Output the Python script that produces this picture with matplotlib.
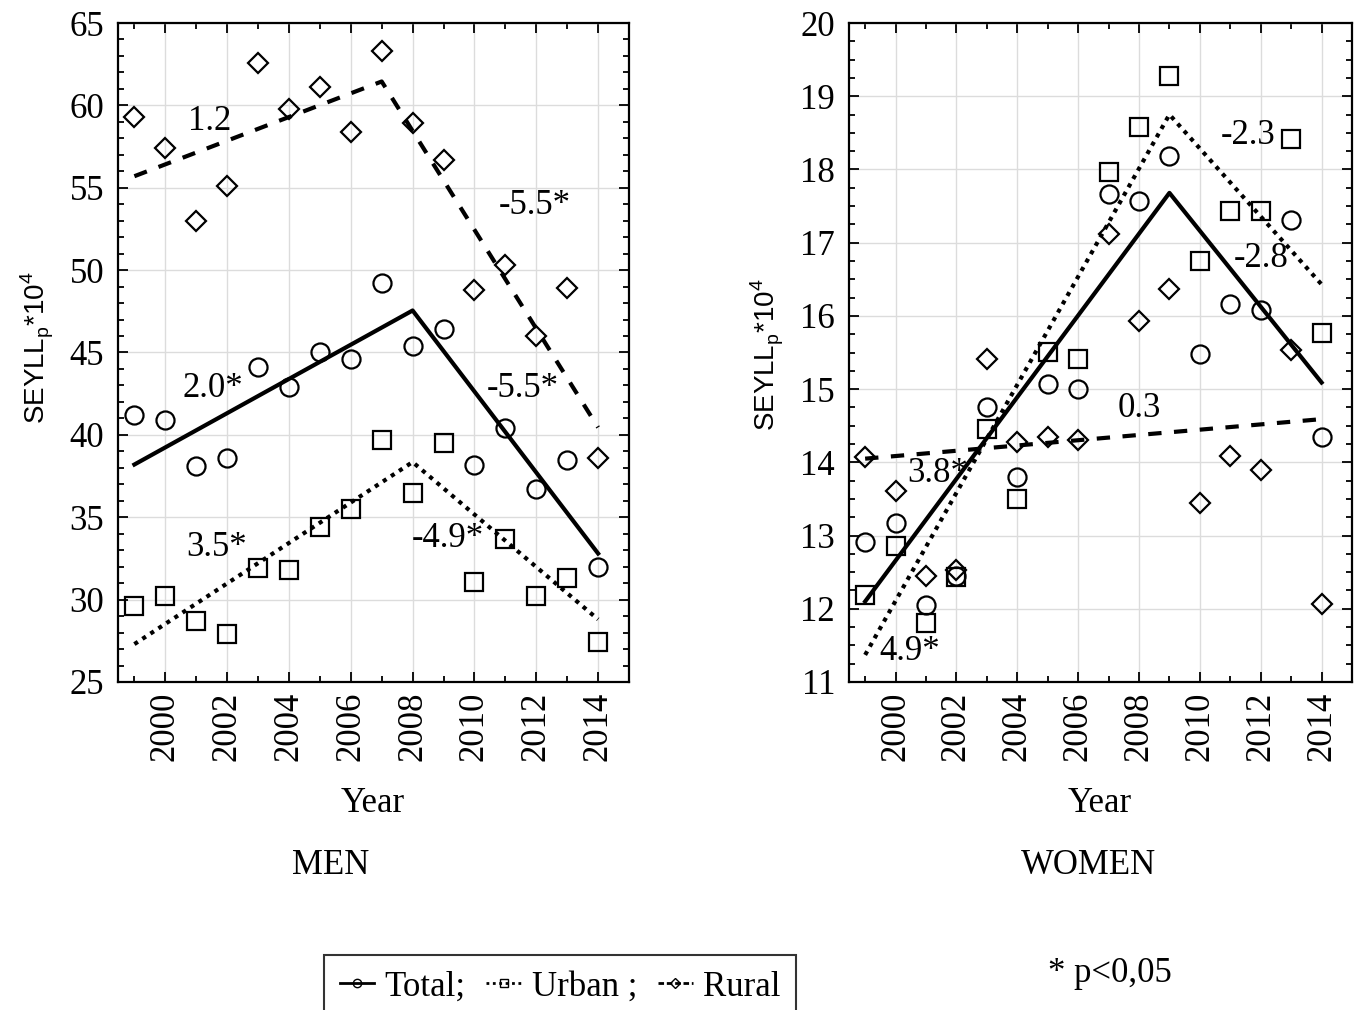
import matplotlib.pyplot as plt
from matplotlib.lines import Line2D
from matplotlib.ticker import MultipleLocator

# Years of observation
years = list(range(1999, 2015))

# MEN: SEYLLp*10^4
men_total = [41.2, 40.9, 38.1, 38.6, 44.1, 42.9, 45.0, 44.6, 49.2, 45.4, 46.4, 38.2, 40.4, 36.7, 38.5, 32.0]
men_urban = [29.6, 30.2, 28.7, 27.9, 31.9, 31.8, 34.4, 35.5, 39.7, 36.5, 39.5, 31.1, 33.7, 30.2, 31.3, 27.4]
men_rural = [59.3, 57.4, 53.0, 55.1, 62.6, 59.8, 61.1, 58.4, 63.3, 58.9, 56.7, 48.8, 50.3, 46.0, 48.9, 38.6]

# WOMEN: SEYLLp*10^4
women_total = [12.91, 13.17, 12.05, 12.45, 14.76, 13.80, 15.07, 15.0, 17.66, 17.57, 18.19, 15.48, 16.16, 16.08, 17.31, 14.34]
women_urban = [12.19, 12.86, 11.81, 12.43, 14.45, 13.50, 15.51, 15.41, 17.97, 18.58, 19.28, 16.75, 17.43, 17.43, 18.41, 15.77]
women_rural = [14.07, 13.61, 12.45, 12.53, 15.41, 14.28, 14.35, 14.31, 17.12, 15.93, 16.37, 13.44, 14.09, 13.89, 15.54, 12.06]

# Joinpoint trend lines (x = join years, y = fitted values)
men_total_tx, men_total_ty = [1999, 2008, 2014], [38.2, 47.55, 32.8]
men_urban_tx, men_urban_ty = [1999, 2008, 2014], [27.3, 38.35, 28.8]
men_rural_tx, men_rural_ty = [1999, 2007, 2014], [55.7, 61.45, 40.45]
women_total_tx, women_total_ty = [1999, 2009, 2014], [12.1, 17.68, 15.09]
women_urban_tx, women_urban_ty = [1999, 2009, 2014], [11.37, 18.75, 16.43]
women_rural_tx, women_rural_ty = [1999, 2014], [14.05, 14.59]

# Annual percent change labels
men_apc = ['1.2', '-5.5*', '2.0*', '-5.5*', '3.5*', '-4.9*']
men_apc_x = [2001.42, 2011.94, 2001.55, 2011.55, 2001.67, 2009.15]
men_apc_y = [59.05, 53.93, 42.83, 42.83, 33.14, 33.68]
women_apc = ['-2.3', '-2.8', '0.3', '3.8*', '4.9*']
women_apc_x = [2011.6, 2012.0, 2008.0, 2001.4, 2000.45]
women_apc_y = [18.47, 16.78, 14.74, 13.85, 11.41]

serif = 'Liberation Serif'
sans = 'Liberation Sans'
fs = 25

W, H = 1358, 1010
fig = plt.figure(figsize=(W / 100, H / 100), dpi=100)
ax1 = fig.add_axes([118 / W, 1 - 682 / H, (629 - 118) / W, (682 - 23) / H])
ax2 = fig.add_axes([849 / W, 1 - 682 / H, (1352 - 849) / W, (682 - 23) / H])

solid = '-'
dashed = (0, (3.2, 3.0))
dotted = (0, (1, 1.3))
mk = dict(linestyle='none', markerfacecolor='none', markeredgecolor='black', markeredgewidth=1.6)


def draw_panel(ax, total, urban, rural, trends, labels, lx, ly):
    # scatter of observed values
    ax.plot(years, total, marker='o', markersize=13, **mk, zorder=4)
    ax.plot(years, urban, marker='s', markersize=13.5, **mk, zorder=4)
    ax.plot(years, rural, marker='D', markersize=10, **mk, zorder=4)
    # trend lines
    for (tx, ty), ls in zip(trends, [solid, dotted, dashed]):
        ax.plot(tx, ty, color='black', linewidth=3, linestyle=ls, zorder=5)
    # APC labels sit under the lines
    for t, x, y in zip(labels, lx, ly):
        ax.text(x, y, t, ha='center', va='center', fontsize=fs, family=serif, zorder=2)

    ax.set_xlim(1998.47, 2015.0)
    ax.xaxis.set_major_locator(MultipleLocator(2))
    ax.xaxis.set_minor_locator(MultipleLocator(1))
    ax.grid(True, which='major', color='#dcdcdc', linewidth=1, zorder=0)
    ax.set_axisbelow(True)
    ax.tick_params(which='both', direction='in', top=True, right=True, width=1.3)
    ax.tick_params(which='major', length=7)
    ax.tick_params(which='minor', length=4)
    ax.tick_params(axis='y', which='major', pad=10)
    ax.tick_params(axis='x', which='major', pad=7)
    for sp in ax.spines.values():
        sp.set_linewidth(1.6)
    for lab in ax.get_xticklabels():
        lab.set_rotation(90)
    for lab in ax.get_xticklabels() + ax.get_yticklabels():
        lab.set_fontfamily(serif)
        lab.set_fontsize(fs)


ax1.set_ylim(25, 65)
ax1.yaxis.set_major_locator(MultipleLocator(5))
ax1.yaxis.set_minor_locator(MultipleLocator(1))
draw_panel(ax1, men_total, men_urban, men_rural,
           [(men_total_tx, men_total_ty), (men_urban_tx, men_urban_ty), (men_rural_tx, men_rural_ty)],
           men_apc, men_apc_x, men_apc_y)

ax2.set_ylim(11, 20)
ax2.yaxis.set_major_locator(MultipleLocator(1))
ax2.yaxis.set_minor_locator(MultipleLocator(0.25))
draw_panel(ax2, women_total, women_urban, women_rural,
           [(women_total_tx, women_total_ty), (women_urban_tx, women_urban_ty), (women_rural_tx, women_rural_ty)],
           women_apc, women_apc_x, women_apc_y)

# Axis titles placed like in the original figure
ylab = r'SEYLL$_\mathregular{p}$*10$^\mathregular{4}$'
fig.text(37 / W, 1 - 348 / H, ylab, rotation=90, ha='center', va='center', fontsize=20, family=sans)
fig.text(767 / W, 1 - 355 / H, ylab, rotation=90, ha='center', va='center', fontsize=20, family=sans)
fig.text(373 / W, 1 - 803 / H, 'Year', ha='center', va='center', fontsize=fs, family=serif)
fig.text(1100 / W, 1 - 803 / H, 'Year', ha='center', va='center', fontsize=fs, family=serif)
fig.text(331 / W, 1 - 866 / H, 'MEN', ha='center', va='center', fontsize=fs, family=serif)
fig.text(1088 / W, 1 - 866 / H, 'WOMEN', ha='center', va='center', fontsize=fs, family=serif)
fig.text(1110 / W, 1 - 973 / H, '* p<0,05', ha='center', va='center', fontsize=fs, family=serif)

# Legend
handles = [
    Line2D([], [], color='black', linestyle=solid, linewidth=2, marker='o', markersize=6,
           markerfacecolor='none', markeredgecolor='black'),
    Line2D([], [], color='black', linestyle=dotted, linewidth=2, marker='s', markersize=6,
           markerfacecolor='none', markeredgecolor='black'),
    Line2D([], [], color='black', linestyle=(0, (2, 1)), linewidth=2, marker='D', markersize=5,
           markerfacecolor='none', markeredgecolor='black'),
]
leg = fig.legend(handles, ['Total;', 'Urban ;', 'Rural'], loc='upper center',
                 bbox_to_anchor=(560 / W, 1 - 955 / H), ncol=3, frameon=True, fancybox=False,
                 handlelength=1.0, handletextpad=0.3, columnspacing=0.6, borderpad=0.45,
                 borderaxespad=0, prop={'family': serif, 'size': fs})
leg.get_frame().set_edgecolor('black')
leg.get_frame().set_linewidth(1.5)

fig.savefig('out.png', dpi=100)
